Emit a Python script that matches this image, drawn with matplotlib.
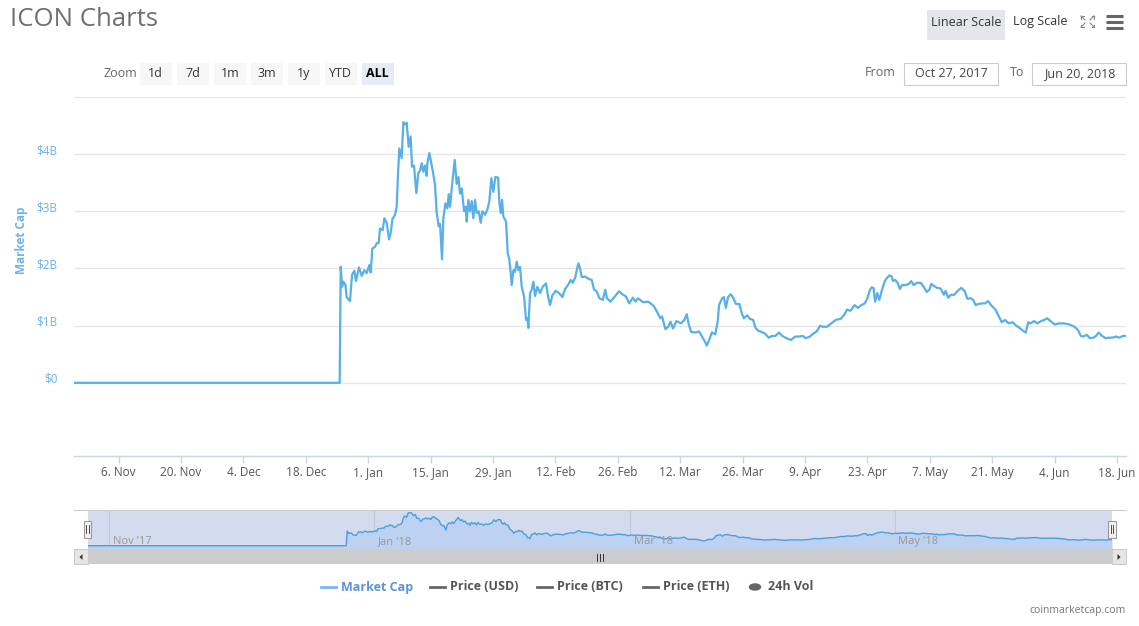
import matplotlib.pyplot as plt
import matplotlib.dates as mdates
import pandas as pd
from matplotlib.patches import Rectangle, Polygon
from matplotlib.lines import Line2D
from matplotlib.transforms import ScaledTranslation

plt.rcParams['font.family'] = ['Open Sans', 'DejaVu Sans']

W, H = 1139, 626

START = pd.Timestamp('2017-10-27')
END = pd.Timestamp('2018-06-20')

# days since 27 Oct 2017 and market cap in billions of USD
days = [0.0, 59.6, 59.83, 60.13, 60.43, 60.87, 61.17, 61.92, 62.37, 62.89, 63.27,
        63.94, 64.54, 65.14, 65.66, 66.26, 66.56, 66.93, 67.53, 67.90, 68.35,
        68.65, 69.25, 69.62, 70.15, 70.67, 71.05, 71.42, 72.02, 72.39, 72.69,
        72.99, 73.51, 73.89, 74.34, 74.63, 75.08, 75.53, 75.83, 76.28, 76.80,
        77.25, 77.63, 78.00, 78.37, 78.75, 79.12, 79.27, 79.72, 80.09, 80.62,
        80.99, 81.37, 81.81, 82.11, 82.56, 82.86, 83.31, 83.76, 84.06, 84.36,
        84.81, 85.41, 85.85, 86.23, 86.60, 86.98, 87.50, 87.87, 88.10, 88.47,
        88.85, 89.22, 89.59, 89.97, 90.34, 90.79, 91.24, 91.61, 92.21, 92.73,
        93.18, 93.63, 94.08, 94.53, 95.13, 95.43, 95.73, 96.03, 96.32, 96.92,
        97.30, 97.67, 97.97, 98.19, 98.57, 98.94, 99.32, 99.69, 100.06, 100.44,
        100.96, 101.41, 101.71, 101.93, 102.31, 102.68, 103.06, 103.43, 103.95,
        104.55, 105.15, 105.90, 106.35, 106.79, 107.32, 108.07, 108.81, 109.56,
        110.16, 110.91, 111.43, 111.88, 112.48, 112.78, 113.15, 113.53, 113.90,
        114.65, 115.40, 116.14, 116.67, 117.26, 117.86, 118.64, 119.18, 119.56,
        120.33, 121.11, 122.26, 123.03, 123.81, 124.58, 125.35, 125.97, 126.51,
        127.66, 128.82, 129.98, 130.75, 131.52, 131.91, 132.68, 133.29, 133.83,
        134.37, 135.15, 136.15, 136.92, 137.46, 137.92, 138.46, 139.46, 140.24,
        141.01, 141.55, 141.93, 142.55, 143.09, 143.86, 144.40, 144.71, 145.40,
        145.79, 146.25, 146.72, 147.33, 147.95, 148.49, 149.26, 149.80, 150.26,
        151.04, 151.58, 152.35, 152.89, 153.50, 154.28, 155.05, 155.82, 156.59,
        157.36, 158.13, 158.90, 159.83, 160.83, 161.84, 162.76, 163.53, 164.15,
        165.08, 165.85, 166.62, 167.39, 168.01, 168.93, 169.86, 170.86, 172.02,
        172.79, 173.41, 174.18, 175.10, 175.88, 176.65, 177.42, 178.03, 178.57,
        178.96, 179.35, 179.73, 180.20, 180.66, 181.27, 181.89, 182.43, 182.97,
        183.43, 183.74, 184.21, 184.75, 185.29, 185.75, 186.52, 187.29, 187.83,
        188.37, 189.14, 189.92, 190.53, 191.30, 191.92, 192.31, 193.00, 193.62,
        194.39, 195.16, 195.55, 196.09, 196.70, 197.47, 198.25, 199.02, 199.79,
        200.41, 201.18, 201.72, 202.26, 202.87, 203.65, 204.42, 205.04, 205.81,
        206.73, 207.50, 208.12, 208.89, 209.66, 210.59, 211.36, 212.13, 212.90,
        213.52, 214.06, 214.60, 215.37, 216.14, 216.91, 217.69, 218.30, 219.07,
        220.00, 221.00, 222.16, 223.32, 224.47, 225.25, 225.86, 226.40, 227.17,
        227.94, 228.71, 229.26, 229.87, 230.64, 231.42, 232.19, 232.96, 233.73,
        234.50, 235.28, 236.0]
mcap_bn = [0.0, 0.0, 2.03, 1.68, 1.77, 1.72, 1.50, 1.43, 1.89, 1.96, 1.78,
           2.02, 1.87, 1.97, 1.92, 2.06, 1.93, 2.35, 2.38, 2.44, 2.45,
           2.70, 2.67, 2.88, 2.80, 2.51, 2.62, 2.86, 2.94, 3.08, 3.67,
           4.10, 3.93, 4.56, 4.52, 4.55, 4.13, 4.31, 3.78, 3.80, 3.32,
           3.67, 3.71, 3.84, 3.69, 3.80, 3.62, 3.84, 4.02, 3.87, 3.64,
           3.46, 2.97, 2.74, 2.78, 2.16, 2.88, 3.14, 3.05, 3.30, 3.08,
           3.46, 3.90, 3.48, 3.60, 3.31, 3.40, 3.00, 3.08, 2.82, 3.20,
           3.00, 3.18, 2.88, 3.20, 2.97, 3.00, 2.80, 3.00, 2.94, 3.03,
           3.18, 3.58, 3.34, 3.60, 3.59, 3.15, 2.97, 3.20, 2.91, 2.82,
           2.27, 2.15, 1.92, 1.71, 1.97, 1.94, 2.12, 1.97, 2.03, 1.68,
           1.51, 1.10, 1.13, 0.96, 1.57, 1.63, 1.77, 1.52, 1.68,
           1.57, 1.68, 1.74, 1.51, 1.36, 1.53, 1.61, 1.57, 1.50,
           1.64, 1.72, 1.80, 1.75, 1.85, 1.97, 2.09, 2.00, 1.85,
           1.86, 1.82, 1.80, 1.63, 1.60, 1.48, 1.45, 1.63, 1.48,
           1.42, 1.49, 1.60, 1.55, 1.51, 1.39, 1.49, 1.42, 1.48,
           1.41, 1.42, 1.35, 1.25, 1.13, 1.16, 0.94, 0.98, 1.07,
           0.95, 1.08, 1.04, 1.10, 1.20, 1.02, 0.89, 0.88, 0.90,
           0.79, 0.72, 0.65, 0.76, 0.88, 0.85, 1.07, 1.36, 1.48,
           1.50, 1.31, 1.50, 1.55, 1.48, 1.38, 1.38, 1.22, 1.13,
           1.18, 1.12, 1.10, 0.96, 0.91, 0.89, 0.86, 0.79, 0.82,
           0.82, 0.88, 0.82, 0.78, 0.75, 0.81, 0.81, 0.82, 0.78,
           0.81, 0.86, 0.90, 1.00, 0.98, 0.98, 1.04, 1.10, 1.12,
           1.19, 1.28, 1.26, 1.36, 1.31, 1.36, 1.39, 1.49, 1.63,
           1.67, 1.66, 1.42, 1.57, 1.45, 1.63, 1.78, 1.84, 1.88,
           1.86, 1.78, 1.80, 1.75, 1.64, 1.71, 1.71, 1.73, 1.78,
           1.71, 1.75, 1.75, 1.69, 1.59, 1.63, 1.73, 1.69, 1.66,
           1.65, 1.54, 1.61, 1.49, 1.54, 1.54, 1.61, 1.66, 1.61,
           1.47, 1.48, 1.45, 1.36, 1.38, 1.39, 1.39, 1.43, 1.35,
           1.28, 1.16, 1.06, 1.10, 1.04, 1.06, 1.00, 0.96, 0.91,
           0.88, 1.06, 1.04, 1.08, 1.04, 1.08, 1.10, 1.13, 1.08,
           1.02, 1.04, 1.04, 1.02, 0.98, 0.92, 0.82, 0.81, 0.84,
           0.78, 0.79, 0.82, 0.88, 0.82, 0.78, 0.79, 0.79, 0.81,
           0.79, 0.82, 0.82]

x_ticks = ['2017-11-06', '2017-11-20', '2017-12-04', '2017-12-18', '2018-01-01',
           '2018-01-15', '2018-01-29', '2018-02-12', '2018-02-26', '2018-03-12',
           '2018-03-26', '2018-04-09', '2018-04-23', '2018-05-07', '2018-05-21',
           '2018-06-04', '2018-06-18']
y_ticks = [0, 1, 2, 3, 4, 5]
y_labels = ['$0', '$1B', '$2B', '$3B', '$4B', '']
nav_months = ['2017-11-01', '2018-01-01', '2018-03-01', '2018-05-01']
nav_labels = ["Nov '17", "Jan '18", "Mar '18", "May '18"]
zoom_buttons = ['1d', '7d', '1m', '3m', '1y', 'YTD', 'ALL']
legend_items = ['Market Cap', 'Price (USD)', 'Price (BTC)', 'Price (ETH)', '24h Vol']

LINE = '#58b0e8'
dates = START + pd.to_timedelta(days, unit='D')


def fx(x):
    return x / W


def fy(y):
    return 1 - y / H


fig = plt.figure(figsize=(W / 100, H / 100), dpi=100)

# ---- main chart ----
ax = fig.add_axes([fx(74), fy(456), fx(1126) - fx(74), fy(97) - fy(456)])
ax.plot(dates, mcap_bn, color=LINE, lw=1.6, solid_joinstyle='round')
ax.set_xlim(START, END)
ax.set_ylim(-1.28, 5.0)
ax.set_yticks(y_ticks)
ax.set_yticklabels(y_labels)
ax.grid(axis='y', color='#e6e6e6', lw=1)
ax.set_axisbelow(True)
for s in ['top', 'right', 'left']:
    ax.spines[s].set_visible(False)
ax.spines['bottom'].set_color('#ccd6eb')
ax.spines['bottom'].set_linewidth(1)
ax.tick_params(axis='y', length=0, pad=12, labelsize=8.5, labelcolor='#6cb2ea')
# highcharts draws the y labels a little above their grid line
for lbl in ax.get_yticklabels():
    lbl.set_transform(lbl.get_transform() + ScaledTranslation(0, 5 / 100, fig.dpi_scale_trans))
tick_dates = pd.to_datetime(x_ticks)
ax.set_xticks(tick_dates)
ax.set_xticklabels([f"{d.day}. {d.strftime('%b')}" for d in tick_dates])
ax.tick_params(axis='x', length=5, width=1, color='#ccd6eb', pad=2,
               labelsize=8.5, labelcolor='#555555')
fig.text(fx(21), fy(240), 'Market Cap', rotation=90, ha='center', va='center',
         fontsize=8.5, fontweight='bold', color='#6cb2ea')

# ---- navigator ----
nav = fig.add_axes([fx(87.5), fy(549), fx(1112) - fx(87.5), fy(509.5) - fy(549)])
nav.set_facecolor('#d3dcee')
nav.fill_between(dates, mcap_bn, -1, color='#bcd2f0', lw=0)
nav.plot(dates, mcap_bn, color='#4d9de0', lw=1)
nav.set_xlim(START, END)
nav.set_ylim(-0.45, 5.0)
nav_dates = pd.to_datetime(nav_months)
for d, lab in zip(nav_dates, nav_labels):
    nav.axvline(d, color='#bfc8dc', lw=0.8, zorder=0.5)
    nav.annotate(lab, (mdates.date2num(d), 0), xycoords=('data', 'axes fraction'),
                 xytext=(2.5, 1.5), textcoords='offset points', ha='left', va='bottom',
                 fontsize=8, color='#999999')
nav.set_xticks([])
nav.set_yticks([])
for s in nav.spines.values():
    s.set_visible(False)

fig.add_artist(Line2D([fx(74), fx(1126)], [fy(509.5), fy(509.5)], color='#cccccc', lw=0.8))
# navigator handles
for hx in [87.3, 1112]:
    fig.add_artist(Rectangle((fx(hx - 3.7), fy(537.5)), 7.4 / W, 16.5 / H,
                             facecolor='#f2f2f2', edgecolor='#999999', lw=0.8))
    for dx in [-1.2, 1.2]:
        fig.add_artist(Line2D([fx(hx + dx), fx(hx + dx)], [fy(533), fy(525)],
                              color='#333333', lw=0.6))

# scrollbar
fig.add_artist(Rectangle((fx(74), fy(564)), (1126 - 74) / W, 15 / H,
                         facecolor='#cccccc', edgecolor='none'))
for bx in [74, 1112]:
    fig.add_artist(Rectangle((fx(bx), fy(564)), 14 / W, 15 / H,
                             facecolor='#e6e6e6', edgecolor='#cccccc', lw=0.8))
fig.add_artist(Polygon([[fx(82.5), fy(554)], [fx(82.5), fy(560)], [fx(79.5), fy(557)]],
                       closed=True, facecolor='#333333', edgecolor='none'))
fig.add_artist(Polygon([[fx(1117.5), fy(554)], [fx(1117.5), fy(560)], [fx(1120.5), fy(557)]],
                       closed=True, facecolor='#333333', edgecolor='none'))
for gx in [597, 600, 603]:
    fig.add_artist(Line2D([fx(gx), fx(gx)], [fy(553.5), fy(560.5)], color='#333333', lw=0.7))

# ---- header ----
fig.text(fx(10), fy(20), 'ICON Charts', fontsize=18.5, color='#707070', ha='left', va='center')

fig.add_artist(Rectangle((fx(926.5), fy(39.5)), 78.5 / W, 29.5 / H,
                         facecolor='#e4e6ea', edgecolor='none'))
fig.text(fx(966), fy(22), 'Linear Scale', fontsize=9, color='#333333', ha='center', va='center')
fig.text(fx(1040), fy(22), 'Log Scale', fontsize=9, color='#333333', ha='center', va='center')

# fullscreen icon
icon_c = '#888888'
for cx, cy, sx, sy in [(1081, 16, 1, 1), (1094, 16, -1, 1), (1081, 27, 1, -1), (1094, 27, -1, -1)]:
    fig.add_artist(Line2D([fx(cx), fx(cx + 4 * sx)], [fy(cy), fy(cy + 4 * sy)], color=icon_c, lw=0.8))
    fig.add_artist(Line2D([fx(cx), fx(cx + 2.5 * sx)], [fy(cy), fy(cy)], color=icon_c, lw=0.8))
    fig.add_artist(Line2D([fx(cx), fx(cx)], [fy(cy), fy(cy + 2.5 * sy)], color=icon_c, lw=0.8))
# menu icon
for my in [16, 22, 28]:
    fig.add_artist(Line2D([fx(1106), fx(1123)], [fy(my), fy(my)], color='#666666', lw=2.2,
                          solid_capstyle='butt'))

# zoom buttons
fig.text(fx(103), fy(73.5), 'Zoom', fontsize=9, color='#666666', ha='left', va='center')
for i, lab in enumerate(zoom_buttons):
    bx = 140 + i * 37
    sel = lab == 'ALL'
    fig.add_artist(Rectangle((fx(bx), fy(85)), 31.7 / W, 21.7 / H,
                             facecolor='#e6ebf5' if sel else '#f7f7f7', edgecolor='none'))
    fig.text(fx(bx + 15.8), fy(73.5), lab, fontsize=9, ha='center', va='center',
             color='#000000' if sel else '#333333', fontweight='bold' if sel else 'normal')

# date range inputs
fig.text(fx(880), fy(73), 'From', fontsize=9, color='#666666', ha='center', va='center')
fig.text(fx(1017.5), fy(73), 'To', fontsize=9, color='#666666', ha='center', va='center')
for bx, txt in [(904.3, 'Oct 27, 2017'), (1032.3, 'Jun 20, 2018')]:
    fig.add_artist(Rectangle((fx(bx), fy(85)), 94 / W, 21.7 / H,
                             facecolor='white', edgecolor='#cccccc', lw=0.8))
    fig.text(fx(bx + 47), fy(73.5), txt, fontsize=9, color='#444444', ha='center', va='center')

# ---- legend ----
leg_y = 587
leg_x = [321, 430, 537, 643, 749]
for i, (lab, lx) in enumerate(zip(legend_items, leg_x)):
    if i == 0:
        c_sym, c_txt = '#7cb5ec', '#5b93d6'
    else:
        c_sym, c_txt = '#666666', '#555555'
    if lab == '24h Vol':
        fig.add_artist(plt.Circle((fx(lx + 6), fy(leg_y)), 5.5 / W, color=c_sym,
                                  transform=fig.transFigure))
        tx = lx + 19
    else:
        fig.add_artist(Line2D([fx(lx), fx(lx + 15)], [fy(leg_y), fy(leg_y)], color=c_sym, lw=2))
        tx = lx + 20
    fig.text(fx(tx), fy(leg_y), lab, fontsize=9, fontweight='bold', color=c_txt,
             ha='left', va='center')

fig.text(fx(1126), fy(610), 'coinmarketcap.com', fontsize=7.5, color='#777777',
         ha='right', va='center')

fig.savefig('out.png', dpi=100, facecolor='white')
